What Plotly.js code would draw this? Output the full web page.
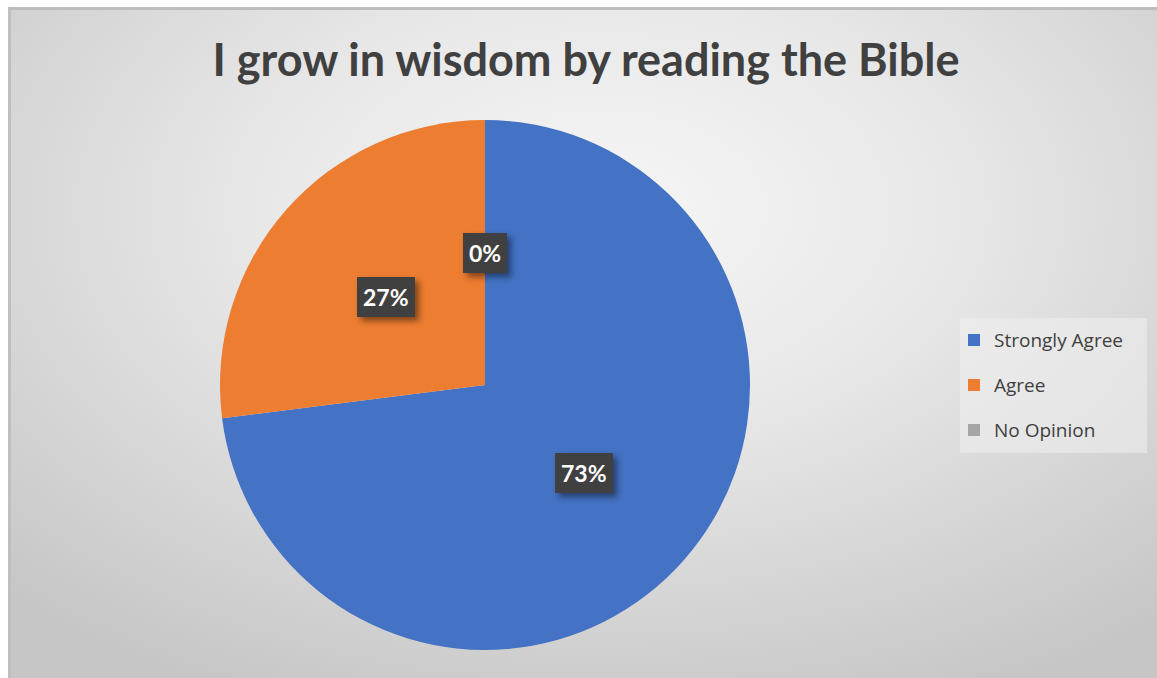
<!DOCTYPE html>
<html>
<head>
<meta charset="utf-8">
<script src="https://cdn.plot.ly/plotly-3.0.1.min.js"></script>
<style>
  html, body { margin: 0; padding: 0; width: 1157px; height: 678px; background: #ffffff; overflow: hidden; }
  #bg { position: absolute; left: 8px; top: 7px; width: 1149px; height: 671px; box-sizing: border-box;
        border-top: 3px solid #bcbcbc; border-left: 3px solid #bfbfbf;
        background: radial-gradient(ellipse 75% 80% at 52% 30%, #f6f6f6 0%, #e8e8e8 40%, #d4d4d4 75%, #c6c6c6 100%); }
  #chart { position: absolute; left: 0; top: 0; width: 1157px; height: 678px; }
  #chart .annotation rect.bg { filter: drop-shadow(4px 4px 3px rgba(0,0,0,0.45)); }
</style>
</head>
<body>
<div id="bg"></div>
<div id="chart"></div>
<script>
const categories = ["Strongly Agree", "Agree", "No Opinion"];
const values = [73, 27, 0];
const percentLabels = ["73%", "27%", "0%"];
const colors = ["#4472C4", "#ED7D31", "#A5A5A5"];

const W = 1157, H = 678;
const domX = [220 / W, 750 / W];
const domY = [(H - 650) / H, (H - 120) / H];

// label positions: half radius at slice mid-angle (clockwise from 12 o'clock)
const total = values.reduce((a, b) => a + b, 0);
const cx = (domX[0] + domX[1]) / 2 * W;
const cyTop = H - (domY[0] + domY[1]) / 2 * H;
const R = (domY[1] - domY[0]) * H / 2;
let cum = 0;
const annotations = values.map((v, i) => {
  const mid = (cum + v / 2) / total * 2 * Math.PI;
  cum += v;
  const px = cx + 0.5 * R * Math.sin(mid);
  const py = cyTop - 0.5 * R * Math.cos(mid);
  return {
    x: px / W, y: 1 - py / H, xref: "paper", yref: "paper",
    xanchor: "center", yanchor: "middle",
    text: "<b>" + percentLabels[i] + "</b>", showarrow: false,
    font: { family: "Lato, 'Open Sans', sans-serif", size: 23, color: "#ffffff" },
    bgcolor: "#404040", borderpad: 6, borderwidth: 0
  };
});

const data = [{
  type: "pie",
  labels: categories,
  values: values,
  sort: false,
  direction: "clockwise",
  rotation: 0,
  marker: { colors: colors, line: { width: 0 } },
  textinfo: "none",
  domain: { x: domX, y: domY },
  hoverinfo: "label+percent"
}];

const layout = {
  width: W, height: H,
  margin: { l: 0, r: 0, t: 0, b: 0 },
  paper_bgcolor: "rgba(0,0,0,0)",
  plot_bgcolor: "rgba(0,0,0,0)",
  title: {
    text: "<b>I grow in wisdom by reading the Bible</b>",
    font: { family: "Lato, 'Open Sans', sans-serif", size: 45, color: "#404040" },
    x: 586 / W, xanchor: "center", y: 1 - 60 / H, yanchor: "middle"
  },
  showlegend: true,
  legend: {
    x: 960 / W, xanchor: "left", y: 1 - 318 / H, yanchor: "top",
    bgcolor: "rgba(240,240,240,0.55)",
    font: { family: "'Open Sans', sans-serif", size: 19, color: "#404040" },
    itemwidth: 30
  },
  annotations: annotations
};

Plotly.newPlot("chart", data, layout, { displayModeBar: false, staticPlot: true }).then(gd => {
  // spread legend entries to match the reference spacing
  const legend = gd.querySelector("g.legend");
  if (!legend) return;
  const scroll = legend.querySelector(".scrollbox");
  if (scroll) scroll.removeAttribute("clip-path");
  const traces = legend.querySelectorAll("g.traces");
  traces.forEach((t, i) => {
    const m = /translate\(\s*([-\d.]+)[ ,]+([-\d.]+)\s*\)/.exec(t.getAttribute("transform") || "");
    const x0 = m ? parseFloat(m[1]) : 0;
    t.setAttribute("transform", "translate(" + (x0 - 6) + "," + (22 + i * 45) + ")");
  });
  const bg = legend.querySelector("rect.bg");
  if (bg) { bg.setAttribute("height", 135); bg.setAttribute("width", 187); }
});
</script>
</body>
</html>
